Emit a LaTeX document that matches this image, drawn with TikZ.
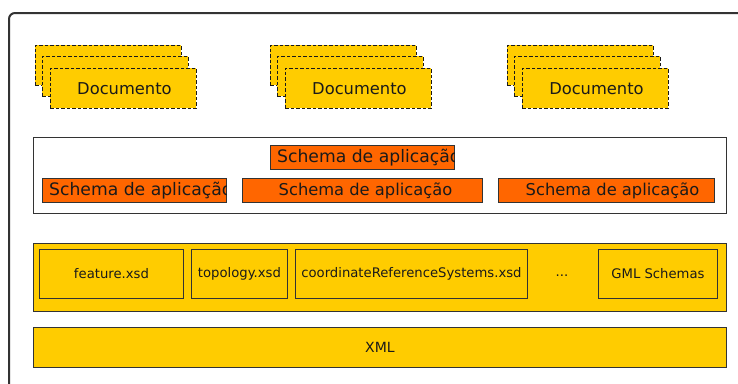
\documentclass[tikz,border=0pt]{standalone}
\usepackage{fontspec}
\setmainfont{DejaVu Sans}
\definecolor{gold}{HTML}{FFCC00}
\definecolor{orng}{HTML}{FF6600}
\definecolor{edge}{HTML}{333333}
\definecolor{ink}{HTML}{1A1A1A}
\begin{document}
\begin{tikzpicture}[x=1pt,y=-1pt,
  box/.style={draw=edge, line width=0.9pt, inner sep=0pt, anchor=north west},
  docbox/.style={box, fill=gold, draw=ink, dash pattern=on 3.5pt off 2pt, minimum width=146pt, minimum height=40pt},
  schbox/.style={box, fill=orng, minimum height=24pt},
  xsdbox/.style={box, fill=gold, minimum height=49pt, font=\fontsize{13.2}{15}\selectfont, text=ink},
  lbl/.style={text=ink, inner sep=0pt},
  big/.style={font=\fontsize{16.3}{19}\selectfont},
  bigc/.style={font=\fontsize{17.2}{20}\selectfont},
]
\useasboundingbox (0,0) rectangle (738,383);
\fill[white] (0,0) rectangle (738,383);
% outer frame
\coordinate (fa) at (9,395);
\coordinate (fb) at (9,13);
\coordinate (fc) at (750,13);
\draw[edge, line width=2pt, rounded corners=6pt] (fa) -- (fb) -- (fc);

% Documento stacks
\foreach \i/\x in {1/35, 2/270, 3/507}{
  \node[docbox] (d\i a) at (\x,45) {};
  \node[docbox] (d\i b) at (\x+7,56) {};
  \node[docbox] (d\i c) at (\x+15,68) {};
  \node[lbl, big] (d\i t) at ([xshift=1pt]d\i c.center) {Documento};
}

% Schema frame
\node[box, fill=white, minimum width=693pt, minimum height=76pt] (sf) at (33,137) {};
\node[schbox, minimum width=184pt] (s1) at (270,145) {};
\node[schbox, minimum width=184pt] (s2) at (42,178) {};
\node[schbox, minimum width=240pt] (s3) at (242,178) {};
\node[schbox, minimum width=216pt] (s4) at (498,178) {};
\begin{scope}
  \clip (s1.south west) rectangle (s1.north east);
  \node[lbl, bigc, anchor=west] (s1t) at ([xshift=7pt]s1.west) {Schema de aplicação};
\end{scope}
\begin{scope}
  \clip (s2.south west) rectangle (s2.north east);
  \node[lbl, bigc, anchor=west] (s2t) at ([xshift=7pt]s2.west) {Schema de aplicação};
\end{scope}
\node[lbl, big] (s3t) at ([xshift=3pt]s3.center) {Schema de aplicação};
\node[lbl, big] (s4t) at ([xshift=6pt]s4.center) {Schema de aplicação};

% GML frame
\node[box, fill=gold, minimum width=693pt, minimum height=68pt] (gf) at (33,243) {};
\node[xsdbox, minimum width=144pt] (x1) at (39,249) {};
\node[lbl, font=\fontsize{13.2}{15}\selectfont] (x1t) at (x1.center) {feature.xsd};
\node[xsdbox, minimum width=96pt] (x2) at (191,249) {};
\node[lbl, font=\fontsize{13.2}{15}\selectfont] (x2t) at (x2.center) {topology.xsd};
\node[xsdbox, minimum width=232pt] (x3) at (295,249) {};
\node[lbl, font=\fontsize{13.2}{15}\selectfont] (x3t) at (x3.center) {coordinateReferenceSystems.xsd};
\node[lbl, font=\fontsize{13.2}{15}\selectfont] (dots) at (562,276) {...};
\node[xsdbox, minimum width=119pt] (x4) at (598,249) {};
\node[lbl, font=\fontsize{13.2}{15}\selectfont] (x4t) at (x4.center) {GML Schemas};

% XML
\node[box, fill=gold, minimum width=693pt, minimum height=40pt] (xml) at (33,327) {};
\node[lbl, font=\fontsize{14}{16}\selectfont] (xmlt) at (xml.center) {XML};
\end{tikzpicture}
\end{document}
